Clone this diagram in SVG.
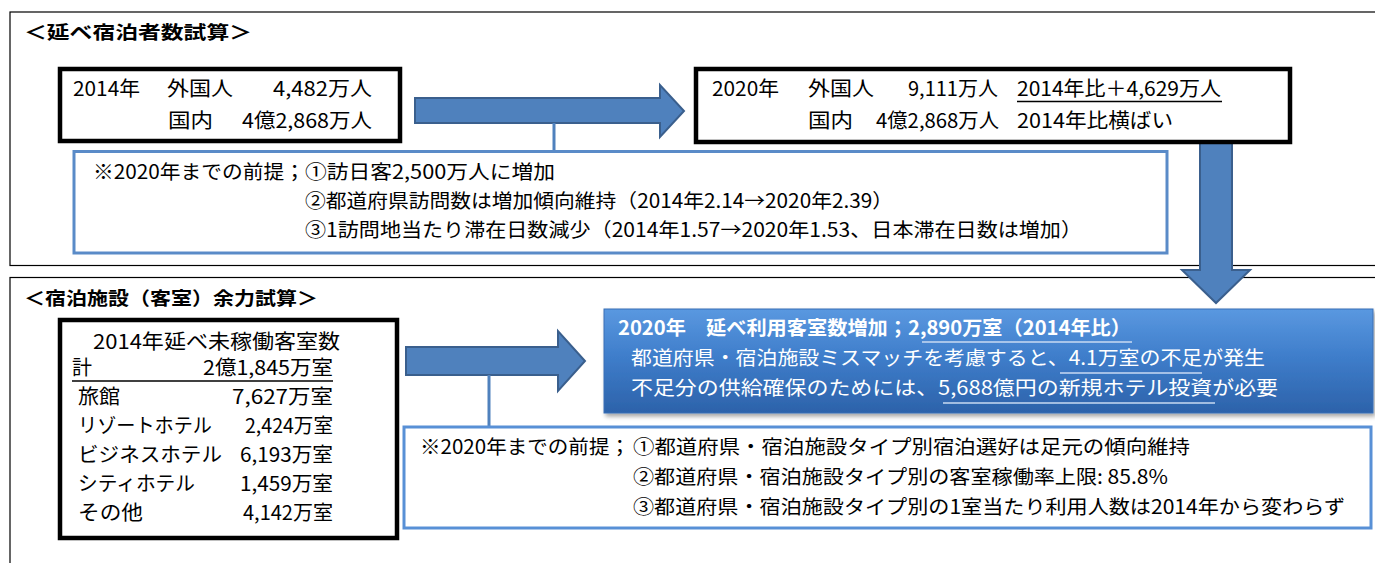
<svg xmlns="http://www.w3.org/2000/svg" width="1375" height="563" viewBox="0 0 1375 563">
<defs>
<linearGradient id="bluegrad" x1="0" y1="0" x2="0" y2="1">
<stop offset="0" stop-color="#5A98E0"/>
<stop offset="0.45" stop-color="#3F7ECB"/>
<stop offset="1" stop-color="#2C62AA"/>
</linearGradient>
<filter id="shadow" x="-5%" y="-10%" width="110%" height="130%">
<feDropShadow dx="2" dy="3" stdDeviation="2" flood-color="#000" flood-opacity="0.35"/>
</filter>
</defs>
<style>
text{font-family:"Noto Sans CJK JP","Noto Sans CJK SC",sans-serif;fill:#000;}
.b{font-size:20px;}
.p{font-size:19.5px;}
.ttl{font-size:18.5px;font-weight:bold;}
.w{fill:#fff;font-size:19.5px;}
.wb{fill:#fff;font-size:19.5px;font-weight:bold;}
.frame{fill:none;stroke:#000;stroke-width:1.2;}
.box{fill:#fff;stroke:#000;stroke-width:4.5;}
.prem1{fill:#fff;stroke:#5A8BC8;stroke-width:3;}
.prem2{fill:#fff;stroke:#5890D6;stroke-width:3;}
.arrow{fill:#4F81BD;stroke:#3A5F8D;stroke-width:2;}
.conn{stroke:#4F81BD;stroke-width:3;fill:none;}
.ul{stroke:#000;stroke-width:1.3;}
.ulw{stroke:#C9DAF2;stroke-width:1.6;}
</style>

<g id="frame-top">
<rect class="frame" x="10" y="12" width="1380" height="253.5"/>
<text class="ttl" x="24" y="39" textLength="228" lengthAdjust="spacingAndGlyphs">＜延べ宿泊者数試算＞</text>
</g>
<g id="frame-bottom">
<rect class="frame" x="10" y="277.5" width="1380" height="300"/>
<text class="ttl" x="24" y="305" textLength="294" lengthAdjust="spacingAndGlyphs">＜宿泊施設（客室）余力試算＞</text>
</g>

<g id="connectors">
<polygon class="arrow" points="415,98 660,98 660,85 684,111 660,137 660,123 415,123"/>
<line class="conn" x1="554" y1="123" x2="554" y2="151"/>
<polygon class="arrow" points="1200,128 1232,128 1232,270 1250,270 1216,303 1182,270 1200,270"/>
<polygon class="arrow" points="406,347 558,347 558,331 585,361 558,391 558,375 406,375"/>
<line class="conn" x1="489" y1="375" x2="489" y2="427"/>
</g>

<g id="node-2014">
<rect class="box" x="60" y="69" width="340" height="72"/>
<text class="b" x="73" y="96" textLength="67" lengthAdjust="spacingAndGlyphs">2014年</text>
<text class="b" x="167" y="96" textLength="66" lengthAdjust="spacingAndGlyphs">外国人</text>
<text class="b" x="273" y="96" textLength="99" lengthAdjust="spacingAndGlyphs">4,482万人</text>
<text class="b" x="168" y="128" textLength="45" lengthAdjust="spacingAndGlyphs">国内</text>
<text class="b" x="242" y="128" textLength="130" lengthAdjust="spacingAndGlyphs">4億2,868万人</text>
</g>

<g id="node-2020">
<rect class="box" x="696" y="69" width="594" height="73"/>
<text class="b" x="712" y="96" textLength="67" lengthAdjust="spacingAndGlyphs">2020年</text>
<text class="b" x="808" y="96" textLength="66" lengthAdjust="spacingAndGlyphs">外国人</text>
<text class="b" x="908" y="96" textLength="90" lengthAdjust="spacingAndGlyphs">9,111万人</text>
<text class="b" x="1017" y="96" textLength="204" lengthAdjust="spacingAndGlyphs">2014年比＋4,629万人</text>
<line class="ul" x1="1017" y1="101.5" x2="1222" y2="101.5"/>
<text class="b" x="808" y="128" textLength="45" lengthAdjust="spacingAndGlyphs">国内</text>
<text class="b" x="876" y="128" textLength="123" lengthAdjust="spacingAndGlyphs">4億2,868万人</text>
<text class="b" x="1017" y="128" textLength="156" lengthAdjust="spacingAndGlyphs">2014年比横ばい</text>
</g>

<g id="node-premise1">
<rect class="prem1" x="74" y="151.5" width="1093" height="101.5"/>
<text class="p" x="93" y="179" textLength="212" lengthAdjust="spacingAndGlyphs">※2020年までの前提；</text>
<text class="p" x="305" y="179" textLength="250" lengthAdjust="spacingAndGlyphs">①訪日客2,500万人に増加</text>
<text class="p" x="305" y="208" textLength="588" lengthAdjust="spacingAndGlyphs">②都道府県訪問数は増加傾向維持（2014年2.14→2020年2.39）</text>
<text class="p" x="305" y="237" textLength="777" lengthAdjust="spacingAndGlyphs">③1訪問地当たり滞在日数減少（2014年1.57→2020年1.53、日本滞在日数は増加）</text>
</g>

<g id="node-unused-rooms">
<rect class="box" x="60" y="320" width="337" height="218"/>
<text class="b" x="93" y="349" textLength="247" lengthAdjust="spacingAndGlyphs">2014年延べ未稼働客室数</text>
<text class="b" x="72" y="375">計</text>
<text class="b" x="203" y="375" textLength="130" lengthAdjust="spacingAndGlyphs">2億1,845万室</text>
<line class="ul" x1="72" y1="381" x2="333" y2="381" style="stroke-width:1.6"/>
<text class="b" x="78" y="404" textLength="42" lengthAdjust="spacingAndGlyphs">旅館</text>
<text class="b" x="232" y="404" textLength="101" lengthAdjust="spacingAndGlyphs">7,627万室</text>
<text class="b" x="78" y="433" textLength="134" lengthAdjust="spacingAndGlyphs">リゾートホテル</text>
<text class="b" x="245" y="433" textLength="88" lengthAdjust="spacingAndGlyphs">2,424万室</text>
<text class="b" x="78" y="462" textLength="144" lengthAdjust="spacingAndGlyphs">ビジネスホテル</text>
<text class="b" x="240" y="462" textLength="93" lengthAdjust="spacingAndGlyphs">6,193万室</text>
<text class="b" x="78" y="491" textLength="117" lengthAdjust="spacingAndGlyphs">シティホテル</text>
<text class="b" x="240" y="491" textLength="93" lengthAdjust="spacingAndGlyphs">1,459万室</text>
<text class="b" x="78" y="520" textLength="65" lengthAdjust="spacingAndGlyphs">その他</text>
<text class="b" x="243" y="520" textLength="90" lengthAdjust="spacingAndGlyphs">4,142万室</text>
</g>

<g id="node-result">
<rect x="604" y="309" width="769" height="104" fill="url(#bluegrad)" stroke="#3A6FB5" stroke-width="1" filter="url(#shadow)"/>
<text class="wb" x="618" y="335" textLength="513" lengthAdjust="spacingAndGlyphs">2020年　延べ利用客室数増加；2,890万室（2014年比）</text>
<line class="ulw" x1="922" y1="342" x2="1132" y2="342"/>
<text class="w" x="631" y="365" textLength="634" lengthAdjust="spacingAndGlyphs">都道府県・宿泊施設ミスマッチを考慮すると、4.1万室の不足が発生</text>
<line class="ulw" x1="1060" y1="373" x2="1202" y2="373"/>
<text class="w" x="631" y="395" textLength="647" lengthAdjust="spacingAndGlyphs">不足分の供給確保のためには、5,688億円の新規ホテル投資が必要</text>
<line class="ulw" x1="943" y1="403" x2="1215" y2="403"/>
</g>

<g id="node-premise2">
<rect class="prem2" x="404" y="427" width="967" height="101"/>
<text class="p" x="420" y="454" textLength="210" lengthAdjust="spacingAndGlyphs">※2020年までの前提；</text>
<text class="p" x="633" y="454" textLength="557" lengthAdjust="spacingAndGlyphs">①都道府県・宿泊施設タイプ別宿泊選好は足元の傾向維持</text>
<text class="p" x="633" y="484" textLength="535" lengthAdjust="spacingAndGlyphs">②都道府県・宿泊施設タイプ別の客室稼働率上限: 85.8%</text>
<text class="p" x="633" y="514" textLength="712" lengthAdjust="spacingAndGlyphs">③都道府県・宿泊施設タイプ別の1室当たり利用人数は2014年から変わらず</text>
</g>
</svg>
